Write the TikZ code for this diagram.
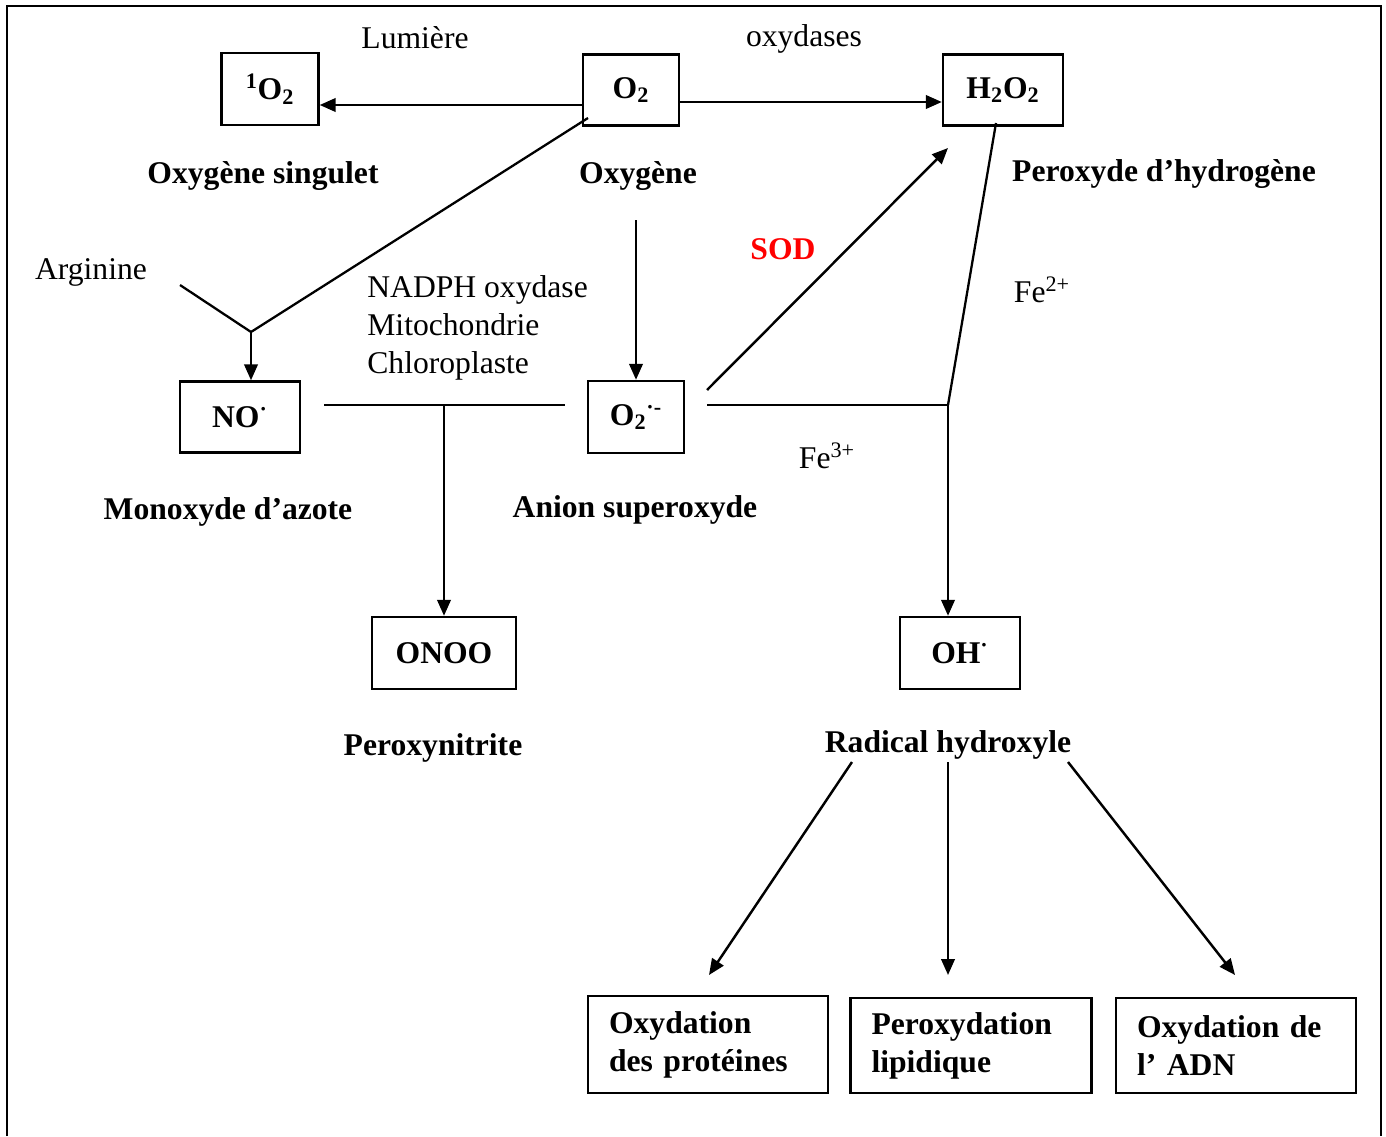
\documentclass[tikz,border=0pt]{standalone}
\usepackage{fontspec}
\setmainfont{Liberation Serif}
\usetikzlibrary{arrows.meta}

\begin{document}
\begin{tikzpicture}[x=0.02cm, y=-0.02cm,
    every node/.style={font=\fontsize{18}{21.6}\selectfont},
    box/.style={draw, line width=1.4pt, inner sep=0pt, font=\fontsize{18}{21.6}\selectfont\bfseries},
    lbl/.style={font=\fontsize{18}{21.6}\selectfont\bfseries},
    arr/.style={line width=1.4pt, -{Triangle[length=0.32cm,width=0.27cm]}},
    link/.style={line width=1.3pt}]
        \useasboundingbox (0,0) rectangle (1386,1136);
        % --- 1. Frame (open at the bottom) ---
        \draw[line width=1.2pt] (7,1136) -- (7,6) -- (1381,6) -- (1381,1136);

        % --- 2. Oxygen row ---
        \node[box, minimum width=1.94cm, minimum height=1.44cm] (singlet) at (270,89) {\textsuperscript{1}O\textsubscript{2}};
        \node[box, minimum width=1.92cm, minimum height=1.42cm] (oxy) at (631,90) {O\textsubscript{2}};
        \node[box, minimum width=2.40cm, minimum height=1.42cm] (perox) at (1003,90) {H\textsubscript{2}O\textsubscript{2}};
        \draw[arr] ([yshift=-0.3cm]oxy.west) -- ([yshift=-0.3cm]oxy.west -| singlet.east);
        \draw[arr] ([yshift=-0.24cm]oxy.east) -- ([yshift=-0.24cm]oxy.east -| perox.west);
        \node (light) at (415,38) {Lumière};
        \node (oxidases) at (804,39) {oxydases};
        \node[lbl] (singlet-name) at (263,176) {Oxygène singulet};
        \node[lbl] (oxy-name) at (638,176) {Oxygène};
        \node[lbl] (perox-name) at (1164,174) {Peroxyde d’hydrogène};

        % --- 3. Nitric oxide branch ---
        \coordinate (oxy-tail) at (588,118);
        \coordinate (arg-end) at (180,285);
        \coordinate (fork) at (251,332);
        \node (arginine) at (91,272) {Arginine};
        \node[box, minimum width=2.40cm, minimum height=1.42cm] (no) at (240,417) {NO\textsuperscript{·}};
        \draw[link] (oxy-tail) -- (fork);
        \draw[link] (arg-end) -- (fork);
        \draw[arr] (fork) -- (fork |- no.north);
        \node[lbl] (no-name) at (228,512) {Monoxyde d’azote};

        % --- 4. Superoxide ---
        \coordinate (oxy-drop) at (636,220);
        \node[box, minimum width=1.92cm, minimum height=1.44cm] (sup) at (636,417) {O\textsubscript{2}\textsuperscript{·-}};
        \draw[arr] (oxy-drop) -- (sup.north);
        \node[anchor=west, inner sep=0pt, align=left] (sources) at (367,328) {NADPH oxydase\\Mitochondrie\\Chloroplaste};
        \node[lbl] (sup-name) at (635,510) {Anion superoxyde};

        % --- 5. Peroxynitrite ---
        \coordinate (no-r) at (324,405);
        \coordinate (sup-l) at (565,405);
        \coordinate (split) at (444,405);
        \node[box, minimum width=2.88cm, minimum height=1.44cm] (onoo) at (444,653) {ONOO};
        \draw[link] (no-r) -- (sup-l);
        \draw[arr] (split) -- (onoo.north);
        \node[lbl] (onoo-name) at (433,748) {Peroxynitrite};

        % --- 6. SOD and Fenton ---
        \coordinate (sod-start) at (707,390);
        \coordinate (sod-end) at (948,148);
        \draw[arr] (sod-start) -- (sod-end);
        \node[lbl, red] (sod) at (783,249) {SOD};
        \coordinate (perox-tail) at (996,123);
        \coordinate (sup-r) at (707,405);
        \coordinate (fenton) at (948,405);
        \node[box, minimum width=2.40cm, minimum height=1.44cm] (oh) at (960,653) {OH\textsuperscript{·}};
        \draw[link] (perox-tail) -- (fenton);
        \draw[link] (sup-r) -- (fenton);
        \draw[arr] (fenton) -- (fenton |- oh.north);
        \node (fe2) at (1042,290) {Fe\textsuperscript{2+}};
        \node (fe3) at (827,456) {Fe\textsuperscript{3+}};
        \node[lbl] (oh-name) at (948,745) {Radical hydroxyle};

        % --- 7. Damage ---
        \foreach \a/\b in {852/709, 948/948, 1068/1235} {
            \draw[arr] (\a,762) -- (\b,975);
        }
        \node[box, align=left, text width=3.96cm, inner xsep=0.42cm, minimum height=1.94cm] (prot) at (708,1044.5) {Oxydation\\des protéines};
        \node[box, align=left, text width=3.98cm, inner xsep=0.42cm, minimum height=1.90cm] (lipid) at (971,1045.5) {Peroxydation\\lipidique};
        \node[box, align=left, text width=3.96cm, inner xsep=0.42cm, minimum height=1.90cm] (dna) at (1236,1045.5) {Oxydation de\\l’ ADN};

    \end{tikzpicture}
\end{document}
